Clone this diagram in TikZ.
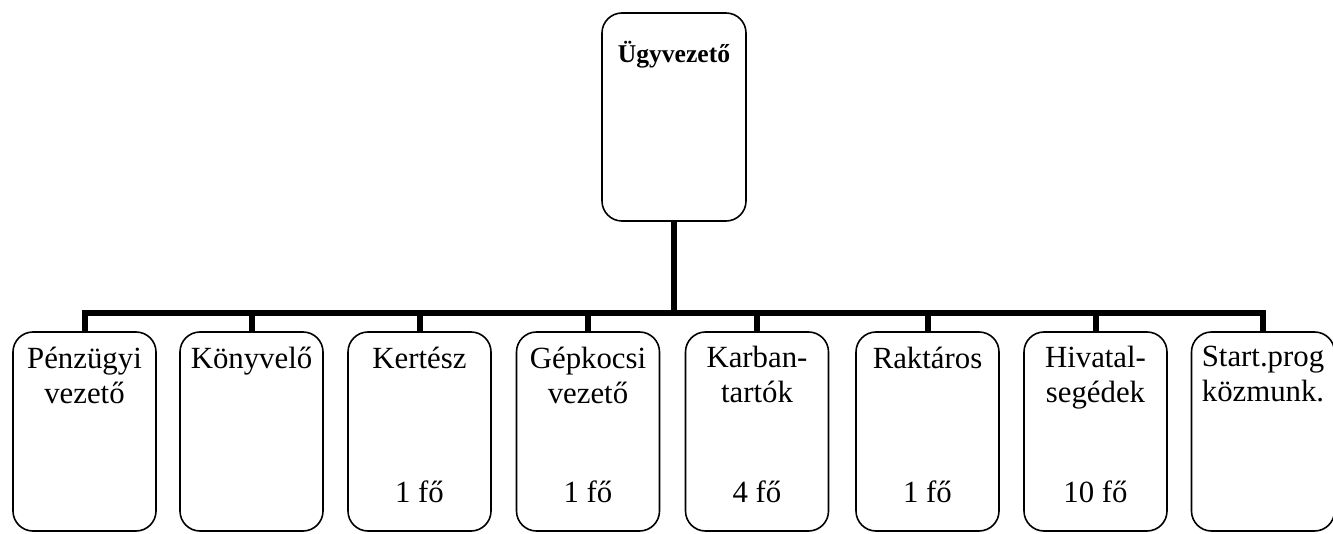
\documentclass[tikz,border=0pt]{standalone}
\usepackage{fontspec}
\setmainfont{Liberation Serif}
\tikzset{
  boxnode/.style={draw, rounded corners=10pt, line width=0.8pt, minimum width=71.5pt, minimum height=99.5pt, inner sep=0pt},
  bosstext/.style={anchor=base, inner sep=0pt, font=\fontsize{12.8}{14}\selectfont\bfseries},
  titletext/.style={anchor=north, inner sep=0pt, align=center, font=\fontsize{15.4}{17.5}\selectfont},
  counttext/.style={anchor=base, inner sep=0pt, font=\fontsize{15.4}{17.5}\selectfont},
  conn/.style={line width=3pt}
}
\begin{document}
\begin{tikzpicture}[x=0.5pt, y=-0.5pt]
\useasboundingbox (0,0) rectangle (1333,534);
% top box
\node[boxnode, minimum width=72pt, minimum height=104pt] (boss) at (674,117) {};
\node[bosstext, yshift=-25pt] (bosslbl) at (boss.north) {Ügyvezető};
\coordinate (bus) at (0,313);
% bottom row
\foreach \i/\x/\lbl/\cnt in {1/84.5/{Pénzügyi\\vezető}/{},
                             2/251.5/{Könyvelő}/{},
                             3/419.5/{Kertész}/{1 fő},
                             4/588/{Gépkocsi\\vezető}/{1 fő},
                             5/757/{Karban-\\tartók}/{4 fő},
                             6/927.5/{Raktáros}/{1 fő},
                             7/1095.5/{Hivatal-\\segédek}/{10 fő},
                             8/1263/{Start.prog\\közmunk.}/{}} {
  \node[boxnode] (b\i) at (\x,431.5) {};
  \node[titletext, yshift=-7.5pt] (t\i) at (b\i.north) {\lbl};
  \node[counttext, yshift=14.5pt] (c\i) at (b\i.south) {\cnt};
  \draw[conn] (boss.south) -- (boss.south |- bus) -| (b\i.north);
}
\end{tikzpicture}
\end{document}
